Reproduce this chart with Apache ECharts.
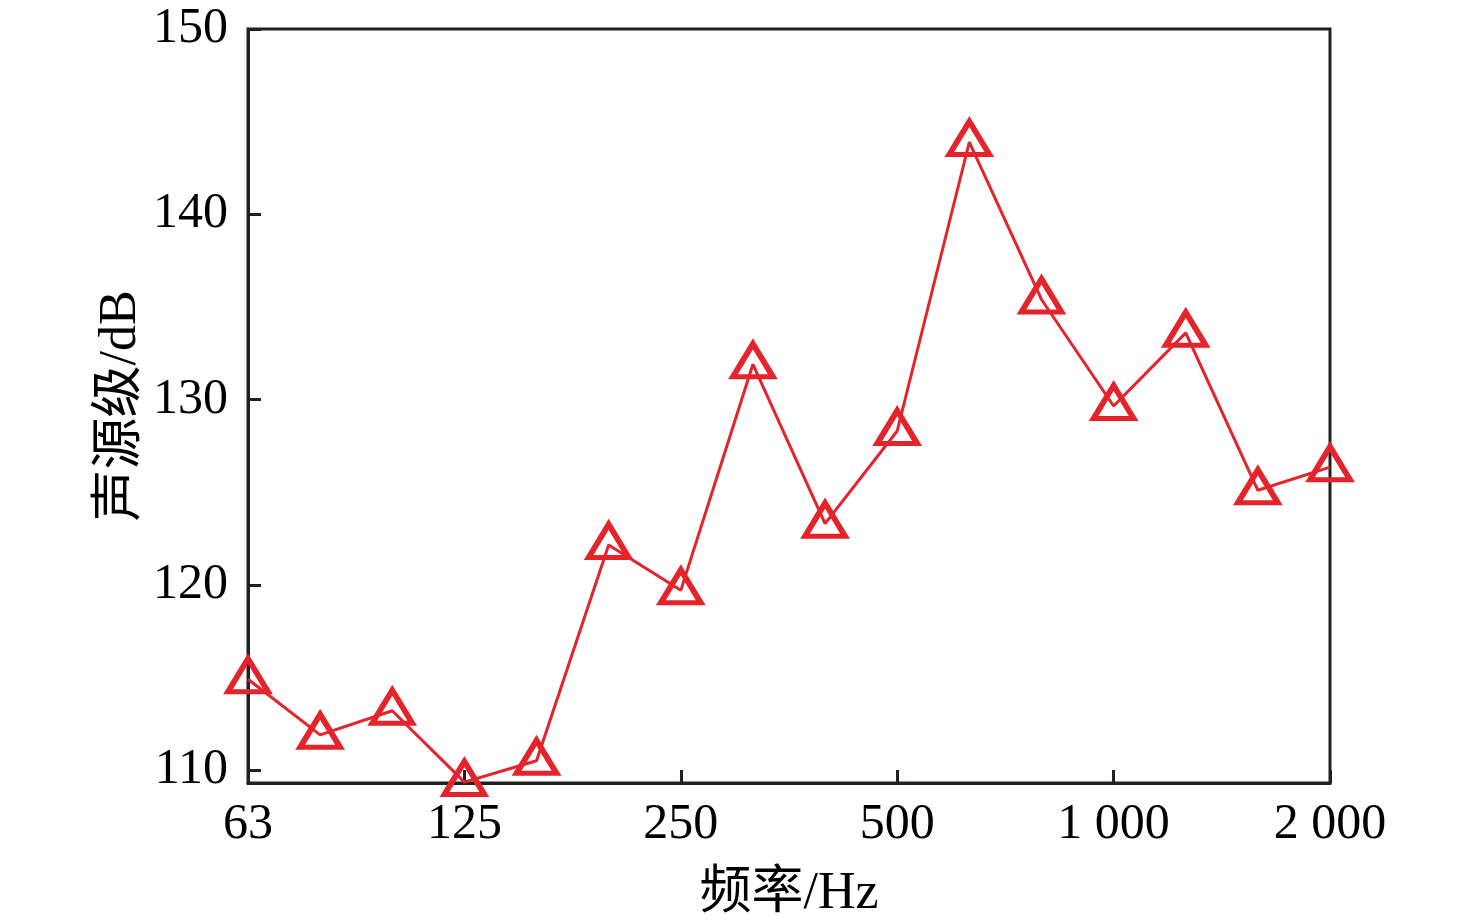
<!DOCTYPE html>
<html>
<head>
<meta charset="utf-8">
<script src="https://cdn.jsdelivr.net/npm/echarts@6/dist/echarts.min.js"></script>
<style>html,body{margin:0;padding:0;background:#fff;}#c{width:1476px;height:922px;}</style>
</head>
<body>
<div id="c"></div>
<script>
const categories = ['63','80','100','125','160','200','250','315','400','500','630','800','1000','1250','1600','2000'];
const levels = [114.9, 111.9, 113.2, 109.35, 110.5, 122.15, 119.7, 131.9, 123.3, 128.3, 143.9, 135.4, 129.65, 133.6, 125.1, 126.35];
const yTicks = [110, 120, 130, 140, 150];
const xLabelShown = ['63','125','250','500','1000','2000'];

const serif = '"Liberation Serif", "Noto Sans CJK SC", serif';
const ink = '#231f20';
const red = '#e5232b';

const chart = echarts.init(document.getElementById('c'), null, {renderer: 'canvas'});
chart.setOption({
  animation: false,
  backgroundColor: '#fff',
  grid: {left: 248, right: 146, top: 29, bottom: 139, outerBoundsMode: 'none', containLabel: false,
    show: true, borderColor: ink, borderWidth: 3, backgroundColor: 'transparent'},
  xAxis: {
    type: 'category',
    data: categories,
    boundaryGap: false,
    name: '频率/Hz',
    nameLocation: 'middle',
    nameGap: 85,
    nameMoveOverlap: false,
    nameTextStyle: {fontFamily: serif, fontSize: 52, color: '#000'},
    axisLine: {lineStyle: {color: ink, width: 3}},
    axisTick: {show: true, inside: true, length: 13, lineStyle: {color: ink, width: 3},
      interval: (i, v) => xLabelShown.indexOf(v) >= 0},
    axisLabel: {fontFamily: serif, fontSize: 50, color: '#000', margin: 17,
      interval: (i, v) => xLabelShown.indexOf(v) >= 0,
      formatter: v => v.length === 4 ? v[0] + ' ' + v.slice(1) : v},
    splitLine: {show: false}
  },
  yAxis: {
    type: 'value',
    min: 109.3,
    max: 150,
    name: '声源级/dB',
    nameLocation: 'middle',
    nameGap: 101,
    nameMoveOverlap: false,
    nameTextStyle: {fontFamily: serif, fontSize: 52, color: '#000'},
    axisLine: {show: true, lineStyle: {color: ink, width: 3}},
    axisTick: {show: true, inside: true, length: 13, lineStyle: {color: ink, width: 3}, customValues: yTicks},
    axisLabel: {show: true, fontFamily: serif, fontSize: 50, color: '#000', margin: 20, customValues: yTicks},
    splitLine: {show: false}
  },
  series: [{
    type: 'line',
    data: levels,
    symbol: 'triangle',
    symbolSize: [40, 33],
    symbolOffset: [0, -4],
    showAllSymbol: true,
    clip: false,
    lineStyle: {color: red, width: 3},
    itemStyle: {color: 'rgba(255,255,255,0)', borderColor: red, borderWidth: 5.5, opacity: 1},
    z: 3
  }]
});
</script>
</body>
</html>
